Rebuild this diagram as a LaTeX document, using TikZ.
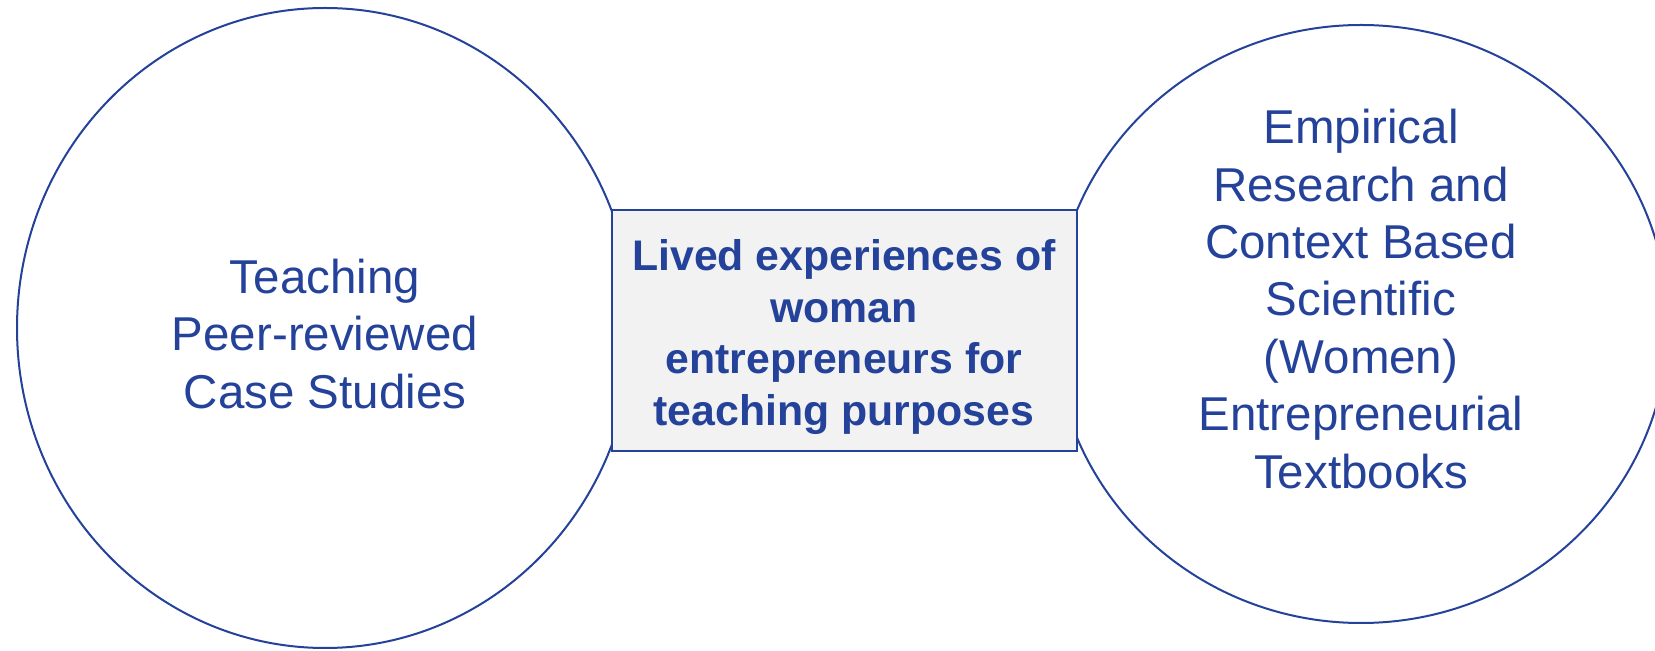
\documentclass[tikz,border=0pt]{standalone}
\usepackage{fontspec}
\setmainfont{Liberation Sans}
\usetikzlibrary{shapes.geometric}
\definecolor{inkblue}{RGB}{36,66,154}
\definecolor{boxgray}{RGB}{242,242,242}
\tikzset{
    source-circle/.style = {draw=inkblue, fill=white, line width=1pt, ellipse, inner sep=0pt},
    source-text/.style = {text=inkblue, align=center, font=\fontsize{23.75}{28.7}\selectfont},
    focus-box/.style = {draw=inkblue, fill=boxgray, line width=1pt, rectangle, inner sep=0pt, minimum width=232.5pt, minimum height=120.5pt},
    focus-text/.style = {text=inkblue, align=center, font=\fontsize{21.4}{25.85}\selectfont\bfseries},
}

\begin{document}
\begin{tikzpicture}[x=0.5pt, y=-0.5pt]
\useasboundingbox (0,0) rectangle (1655,651);
\clip (0,0) rectangle (1655,651);
\node [source-circle, minimum width=308pt, minimum height=320pt] (cases) at (325,328) {};
\node [source-circle, minimum width=307pt, minimum height=299pt] (books) at (1361,324) {};
\node [focus-box] (lived) at (844,330.5) {};
\node [source-text] (cases-text) at (325,334) {Teaching\\Peer-reviewed\\Case Studies};
\node [source-text] (books-text) at (1361,299) {Empirical\\Research and\\Context Based\\Scientific\\(Women)\\Entrepreneurial\\Textbooks};
\node [focus-text] (lived-text) at (844,337) {Lived experiences of\\woman\\entrepreneurs for\\teaching purposes};
\end{tikzpicture}
\end{document}
